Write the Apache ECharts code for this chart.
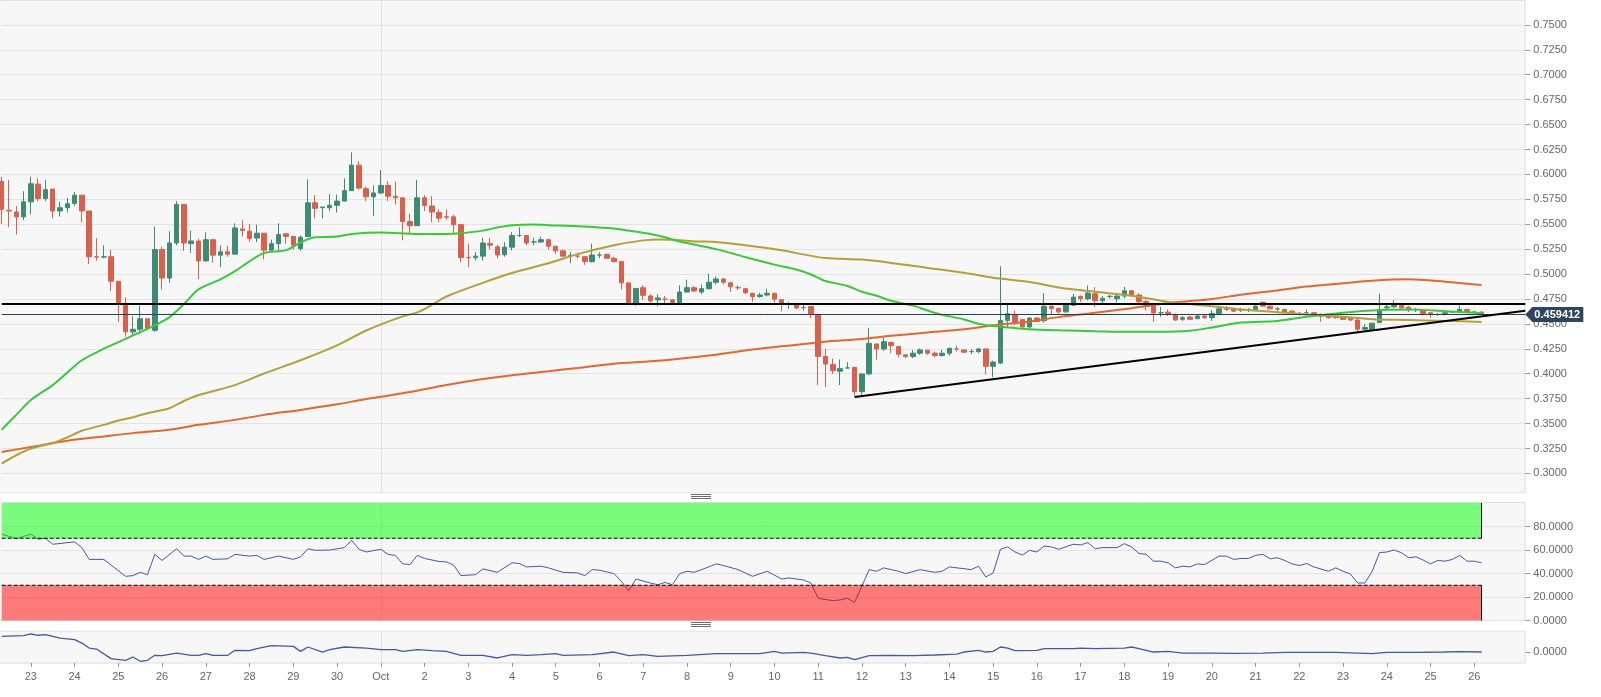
<!DOCTYPE html>
<html><head><meta charset="utf-8">
<script src="https://cdn.jsdelivr.net/npm/echarts@6/dist/echarts.min.js"></script>
<style>html,body{margin:0;padding:0;background:#fff;}#c{width:1601px;height:697px;}</style>
</head><body><div id="c"></div>
<script>
// ---- axis labels (one per day, 4h candles) ----
const dayLabels = ['23','24','25','26','27','28','29','30','Oct','2','3','4','5','6','7','8','9','10','11','12','13','14','15','16','17','18','19','20','21','22','23','24','25','26'];
const firstLabelIndex = 4;   // candle index of the first day start
const candlesPerDay = 6;
const totalSlots = 210;      // candle slots on the axis (incl. empty space at right)

// ---- candle data (4h) ----
const opens = [0.5929,0.5640,0.5623,0.5574,0.5725,0.5902,0.5758,0.5853,0.5633,0.5666,0.5709,0.5791,0.5633,0.5174,0.5170,0.5174,0.4928,0.4699,0.4420,0.4446,0.4551,0.4436,0.5246,0.4960,0.5312,0.5699,0.5305,0.5332,0.5132,0.5345,0.5190,0.5223,0.5200,0.5453,0.5430,0.5361,0.5410,0.5240,0.5305,0.5404,0.5377,0.5256,0.5377,0.5715,0.5666,0.5666,0.5690,0.5732,0.5837,0.6093,0.5857,0.5775,0.5814,0.5889,0.5780,0.5765,0.5528,0.5486,0.5765,0.5683,0.5617,0.5574,0.5574,0.5496,0.5167,0.5164,0.5180,0.5305,0.5273,0.5194,0.5270,0.5387,0.5387,0.5322,0.5322,0.5345,0.5279,0.5233,0.5187,0.5180,0.5174,0.5125,0.5191,0.5197,0.5158,0.5125,0.4912,0.4699,0.4863,0.4780,0.4741,0.4748,0.4741,0.4715,0.4820,0.4863,0.4820,0.4853,0.4918,0.4951,0.4912,0.4863,0.4853,0.4807,0.4774,0.4790,0.4807,0.4743,0.4700,0.4700,0.4664,0.4674,0.4591,0.4173,0.4091,0.4025,0.4058,0.4064,0.3820,0.3998,0.4298,0.4249,0.4315,0.4272,0.4189,0.4173,0.4206,0.4236,0.4206,0.4183,0.4206,0.4249,0.4239,0.4222,0.4222,0.4249,0.4074,0.4107,0.4535,0.4591,0.4545,0.4470,0.4558,0.4532,0.4677,0.4654,0.4621,0.4687,0.4776,0.4753,0.4802,0.4733,0.4776,0.4753,0.4779,0.4832,0.4789,0.4725,0.4690,0.4612,0.4618,0.4595,0.4546,0.4569,0.4553,0.4579,0.4562,0.4605,0.4645,0.4651,0.4638,0.4638,0.4645,0.4717,0.4678,0.4651,0.4645,0.4628,0.4605,0.4612,0.4612,0.4579,0.4579,0.4572,0.4572,0.4553,0.4539,0.4447,0.4441,0.4513,0.4661,0.4671,0.4684,0.4668,0.4645,0.4638,0.4612,0.4595,0.4595,0.4618,0.4618,0.4645,0.4618,0.4618];
const closes = [0.5650,0.5633,0.5574,0.5725,0.5906,0.5758,0.5847,0.5633,0.5666,0.5705,0.5791,0.5633,0.5174,0.5170,0.5174,0.4928,0.4699,0.4420,0.4446,0.4551,0.4453,0.5246,0.4960,0.5312,0.5699,0.5312,0.5332,0.5132,0.5345,0.5190,0.5223,0.5200,0.5463,0.5437,0.5355,0.5410,0.5240,0.5305,0.5397,0.5377,0.5289,0.5370,0.5715,0.5660,0.5673,0.5690,0.5732,0.5837,0.6093,0.5863,0.5775,0.5814,0.5889,0.5781,0.5765,0.5528,0.5486,0.5765,0.5689,0.5623,0.5561,0.5571,0.5496,0.5167,0.5164,0.5180,0.5312,0.5290,0.5191,0.5270,0.5387,0.5387,0.5312,0.5322,0.5345,0.5279,0.5233,0.5180,0.5187,0.5180,0.5125,0.5191,0.5191,0.5158,0.5125,0.4912,0.4699,0.4856,0.4787,0.4731,0.4760,0.4748,0.4715,0.4820,0.4863,0.4830,0.4853,0.4918,0.4951,0.4918,0.4872,0.4863,0.4813,0.4774,0.4790,0.4807,0.4748,0.4700,0.4700,0.4660,0.4664,0.4601,0.4173,0.4097,0.4031,0.4051,0.4058,0.3820,0.3998,0.4305,0.4249,0.4321,0.4282,0.4196,0.4173,0.4206,0.4239,0.4206,0.4183,0.4206,0.4255,0.4249,0.4216,0.4222,0.4249,0.4074,0.4117,0.4535,0.4601,0.4519,0.4470,0.4558,0.4525,0.4677,0.4654,0.4621,0.4687,0.4769,0.4753,0.4809,0.4733,0.4756,0.4776,0.4779,0.4832,0.4789,0.4723,0.4680,0.4610,0.4612,0.4595,0.4539,0.4562,0.4546,0.4579,0.4562,0.4605,0.4651,0.4645,0.4628,0.4638,0.4645,0.4678,0.4678,0.4651,0.4651,0.4618,0.4605,0.4605,0.4612,0.4585,0.4579,0.4562,0.4562,0.4546,0.4539,0.4447,0.4464,0.4507,0.4645,0.4671,0.4684,0.4661,0.4638,0.4645,0.4605,0.4595,0.4595,0.4612,0.4618,0.4645,0.4618,0.4618,0.4594];
const lows = [0.5502,0.5470,0.5397,0.5541,0.5600,0.5732,0.5732,0.5560,0.5577,0.5617,0.5683,0.5519,0.5102,0.5135,0.5160,0.4830,0.4518,0.4371,0.4387,0.4420,0.4436,0.4420,0.4846,0.4912,0.5289,0.5233,0.5214,0.4951,0.5125,0.5115,0.5069,0.5174,0.5200,0.5377,0.5322,0.5322,0.5148,0.5233,0.5233,0.5305,0.5246,0.5233,0.5377,0.5560,0.5560,0.5633,0.5617,0.5732,0.5837,0.5847,0.5732,0.5584,0.5804,0.5732,0.5699,0.5338,0.5410,0.5486,0.5633,0.5519,0.5519,0.5541,0.5404,0.5115,0.5069,0.5135,0.5135,0.5246,0.5158,0.5174,0.5237,0.5370,0.5290,0.5290,0.5312,0.5246,0.5200,0.5174,0.5109,0.5158,0.5092,0.5115,0.5158,0.5158,0.5115,0.4846,0.4699,0.4682,0.4740,0.4715,0.4676,0.4708,0.4699,0.4699,0.4813,0.4820,0.4797,0.4846,0.4896,0.4896,0.4820,0.4840,0.4797,0.4722,0.4764,0.4774,0.4715,0.4624,0.4650,0.4650,0.4634,0.4558,0.3886,0.3866,0.3998,0.3886,0.4051,0.3778,0.3787,0.3985,0.4140,0.4229,0.4206,0.4163,0.4157,0.4157,0.4189,0.4189,0.4166,0.4173,0.4183,0.4223,0.4206,0.4196,0.4206,0.3992,0.3965,0.4097,0.4469,0.4489,0.4463,0.4436,0.4519,0.4512,0.4591,0.4604,0.4611,0.4677,0.4720,0.4737,0.4667,0.4697,0.4753,0.4717,0.4756,0.4773,0.4707,0.4634,0.4520,0.4572,0.4579,0.4530,0.4530,0.4539,0.4546,0.4553,0.4530,0.4595,0.4628,0.4618,0.4618,0.4618,0.4638,0.4671,0.4645,0.4628,0.4612,0.4595,0.4585,0.4605,0.4579,0.4520,0.4553,0.4553,0.4539,0.4530,0.4408,0.4421,0.4431,0.4507,0.4651,0.4661,0.4651,0.4618,0.4618,0.4585,0.4562,0.4579,0.4585,0.4612,0.4612,0.4612,0.4612,0.4590];
const highs = [0.5978,0.5946,0.5683,0.5830,0.5978,0.5960,0.5945,0.5853,0.5725,0.5764,0.5824,0.5791,0.5633,0.5360,0.5289,0.5246,0.4928,0.4764,0.4577,0.4682,0.4551,0.5476,0.5273,0.5430,0.5732,0.5699,0.5437,0.5355,0.5420,0.5345,0.5289,0.5280,0.5509,0.5541,0.5502,0.5496,0.5410,0.5345,0.5509,0.5410,0.5387,0.5387,0.5950,0.5791,0.5673,0.5804,0.5797,0.5961,0.6221,0.6132,0.5879,0.5889,0.6043,0.5935,0.5929,0.5765,0.5607,0.5945,0.5791,0.5781,0.5650,0.5650,0.5594,0.5496,0.5305,0.5220,0.5364,0.5364,0.5290,0.5320,0.5420,0.5470,0.5387,0.5364,0.5377,0.5355,0.5279,0.5246,0.5220,0.5214,0.5180,0.5305,0.5220,0.5207,0.5174,0.5125,0.4912,0.4856,0.4886,0.4797,0.4797,0.4780,0.4748,0.4886,0.4944,0.4879,0.4896,0.5004,0.4977,0.4961,0.4918,0.4886,0.4863,0.4813,0.4813,0.4853,0.4813,0.4743,0.4723,0.4710,0.4690,0.4674,0.4591,0.4250,0.4153,0.4143,0.4117,0.4064,0.3998,0.4459,0.4305,0.4361,0.4321,0.4272,0.4196,0.4239,0.4255,0.4236,0.4222,0.4239,0.4262,0.4282,0.4239,0.4249,0.4255,0.4249,0.4130,0.5079,0.4701,0.4634,0.4551,0.4568,0.4568,0.4809,0.4687,0.4664,0.4703,0.4802,0.4786,0.4885,0.4868,0.4779,0.4789,0.4812,0.4871,0.4839,0.4806,0.4740,0.4690,0.4671,0.4645,0.4605,0.4579,0.4579,0.4595,0.4595,0.4638,0.4684,0.4678,0.4661,0.4661,0.4661,0.4711,0.4727,0.4684,0.4671,0.4651,0.4638,0.4618,0.4645,0.4618,0.4605,0.4585,0.4579,0.4579,0.4562,0.4546,0.4497,0.4513,0.4803,0.4694,0.4737,0.4684,0.4678,0.4661,0.4645,0.4618,0.4605,0.4618,0.4628,0.4684,0.4651,0.4628,0.4628];

// ---- moving averages [candle index, value] ----
const maFast = [[0,0.3438],[2,0.3587],[4,0.3736],[7,0.3886],[9,0.4012],[11,0.4135],[14,0.4251],[16,0.4317],[18,0.4384],[20,0.445],[23,0.4566],[25,0.4699],[27,0.4847],[30,0.4946],[32,0.5029],[34,0.5128],[36,0.5211],[39,0.524],[41,0.5317],[43,0.5369],[46,0.5376],[48,0.5402],[52,0.5416],[57,0.5402],[61,0.5402],[63,0.541],[66,0.5436],[68,0.5468],[70,0.5491],[73,0.5498],[75,0.5491],[79,0.5481],[84,0.5458],[86,0.5436],[89,0.5402],[91,0.5369],[93,0.5326],[98,0.525],[102,0.5171],[106,0.5095],[109,0.5046],[111,0.4996],[113,0.493],[116,0.4881],[118,0.4822],[120,0.4782],[122,0.4733],[125,0.4683],[127,0.4634],[129,0.4591],[132,0.4545],[134,0.4502],[136,0.4479],[139,0.4459],[141,0.4446],[145,0.4436],[150,0.4427],[155,0.442],[159,0.442],[163,0.4431],[166,0.4464],[170,0.4513],[175,0.453],[179,0.4572],[184,0.4612],[188,0.4635],[193,0.4645],[198,0.4628],[202,0.4612],[203,0.4605]];
const maMid = [[0,0.3099],[2,0.3182],[4,0.3248],[7,0.3305],[9,0.3361],[11,0.3428],[14,0.3487],[16,0.353],[18,0.3564],[20,0.3604],[23,0.3653],[25,0.3726],[27,0.3786],[32,0.3886],[36,0.4002],[41,0.4135],[46,0.4284],[50,0.4434],[55,0.4576],[57,0.4615],[59,0.469],[61,0.4775],[66,0.4912],[70,0.501],[75,0.5108],[79,0.52],[84,0.5289],[88,0.5338],[90,0.5348],[92,0.5345],[95,0.5328],[98,0.5322],[102,0.5289],[107,0.524],[109,0.521],[113,0.5161],[118,0.5145],[122,0.5112],[127,0.5062],[132,0.5013],[136,0.4963],[141,0.4921],[145,0.4865],[150,0.4822],[155,0.4782],[159,0.4733],[161,0.4711],[166,0.4678],[170,0.4645],[175,0.4618],[179,0.4595],[184,0.4572],[188,0.4546],[193,0.4539],[198,0.453],[203,0.452]];
const maSlow = [[0,0.3215],[4,0.3265],[9,0.3328],[14,0.3371],[18,0.3404],[23,0.3438],[27,0.3487],[32,0.3537],[36,0.3587],[41,0.3637],[46,0.3693],[50,0.3746],[55,0.3803],[61,0.3886],[66,0.3946],[70,0.3985],[75,0.4025],[79,0.4058],[84,0.4101],[89,0.4125],[93,0.4151],[98,0.4191],[102,0.4234],[107,0.4275],[113,0.4321],[118,0.4348],[122,0.438],[127,0.4413],[132,0.4446],[136,0.4486],[141,0.4525],[145,0.4568],[150,0.4611],[155,0.4657],[159,0.47],[161,0.4717],[166,0.475],[170,0.4793],[175,0.4836],[179,0.4875],[184,0.4908],[188,0.4934],[193,0.4947],[198,0.4924],[203,0.4891]];

// ---- levels ----
const resistance = 0.4705;
const lastPrice = 0.459412;
const trendLine = [[117, 0.3767], [209, 0.4633]];
const rsiUpper = 70, rsiLower = 30;

// ---- RSI [index, value] ----
const rsi = [[0,73.5],[2,69.7],[4,73.5],[5,69.2],[6,70],[7,64.9],[10,66.9],[11,62],[12,52],[14,52],[17,37.6],[18,38.2],[19,41],[20,39],[21,56.3],[22,51.1],[24,61.1],[25,54.8],[26,54.8],[27,52],[28,54.8],[29,52],[31,52.5],[32,56.3],[34,54.8],[35,55.4],[36,52],[38,54.8],[40,52],[41,54.2],[42,61.1],[43,59.7],[45,60],[47,62],[48,68.3],[49,60.6],[50,58.3],[52,60.6],[53,56.3],[54,55.4],[55,48.2],[56,47.6],[57,55.4],[58,52.8],[60,50.2],[61,49.9],[62,47.1],[63,38.2],[65,39],[66,43.9],[68,41],[70,49.1],[71,48.5],[72,45.6],[74,46.2],[75,44.8],[77,41],[79,40.5],[80,38.2],[81,43.3],[82,42.8],[84,39.9],[85,33.3],[86,25.3],[87,35.3],[89,31.9],[90,30.4],[91,32.4],[92,30.4],[93,39.9],[94,41.9],[95,41],[97,45.6],[98,48.2],[99,46.8],[101,43.3],[103,37.6],[105,41.9],[107,35.3],[108,36.2],[110,34.5],[111,31.9],[112,18.9],[114,16.9],[115,17.5],[116,18.9],[117,15.5],[119,43.3],[120,41.9],[121,44.8],[123,41.9],[124,39.9],[126,43.3],[128,41],[129,41.9],[130,45.6],[133,43.3],[134,46.2],[135,37],[136,40.5],[137,60.6],[138,62.6],[139,58.3],[140,55.7],[141,59.7],[142,58.3],[143,63.4],[144,62.6],[145,60.6],[147,64.9],[148,64.3],[149,66.3],[150,61.1],[151,62],[153,62],[154,65.4],[155,62.6],[156,57.1],[157,56.3],[158,50.5],[159,50.5],[160,49.1],[161,44.8],[162,46.2],[163,45.6],[164,48.2],[165,47.6],[167,54.8],[168,54.8],[169,52],[170,52.8],[171,52.8],[172,55.4],[173,56.3],[174,52.5],[175,53.4],[176,51.1],[177,48.2],[178,46.8],[179,48.5],[180,45.6],[182,41.9],[183,44.8],[184,41.9],[185,39.6],[186,31.9],[187,31.9],[188,41.9],[189,57.7],[190,58.3],[191,60],[192,57.7],[193,53.4],[194,54.2],[195,51.4],[196,48.2],[197,51.1],[198,50.5],[199,52],[200,55.4],[201,50.5],[202,50.5],[203,49.1]];

// ---- oscillator [index, value] ----
const osc = [[0,0.0150],[3,0.0157],[4,0.0172],[5,0.0160],[6,0.0166],[8,0.0134],[10,0.0119],[11,0.0087],[12,0.0040],[13,0.0031],[15,-0.0059],[17,-0.0075],[18,-0.0044],[19,-0.0084],[20,-0.0075],[21,-0.0028],[22,-0.0031],[24,-0.0007],[26,-0.0028],[27,-0.0028],[28,-0.0012],[29,-0.0028],[31,-0.0028],[32,0.0019],[34,0.0016],[35,0.0035],[37,0.0063],[40,0.0056],[41,0.0009],[42,0.0050],[44,0.0003],[45,0.0025],[47,0.0050],[50,0.0040],[52,0.0025],[54,0.0025],[55,0.0009],[57,0.0025],[59,0.0016],[61,0.0009],[63,-0.0028],[66,-0.0028],[68,-0.0053],[70,-0.0022],[72,-0.0028],[74,-0.0022],[76,-0.0012],[77,-0.0028],[81,-0.0022],[84,0.0003],[86,-0.0031],[88,-0.0022],[90,-0.0038],[94,-0.0028],[98,-0.0012],[104,-0.0012],[106,0.0009],[107,-0.0007],[110,0],[111,-0.0007],[113,-0.0031],[115,-0.0053],[116,-0.0047],[117,-0.0068],[119,-0.0031],[122,-0.0028],[125,-0.0031],[128,-0.0025],[131,-0.0016],[132,0.0003],[134,0.0019],[135,0.0003],[136,0.0009],[137,0.0050],[138,0.0040],[139,0.0016],[142,0.0019],[143,0.0035],[147,0.0035],[148,0.0040],[150,0.0035],[154,0.0040],[155,0.0050],[156,0.0035],[158,0.0003],[160,0.0009],[162,-0.0007],[166,-0.0007],[169,-0.0009],[173,-0.0007],[176,0],[180,0],[183,0],[186,-0.0007],[188,-0.0012],[190,0],[194,0],[198,0.0003],[200,0.0007],[203,0.0003]];

// ---------- build ----------
const categories = [];
const labelAt = {};
for (let i = 0; i < totalSlots; i++) categories.push('c' + i);
dayLabels.forEach((d, k) => { labelAt[firstLabelIndex + k * candlesPerDay] = d; });
const octIndex = firstLabelIndex + dayLabels.indexOf('Oct') * candlesPerDay;
const candles = opens.map((o, i) => [o, closes[i], lows[i], highs[i]]);
const lastIdx = opens.length - 1;

const FONT = 'Liberation Sans, Arial, sans-serif';
const UP = '#3d8b74', DOWN = '#d8604d';
const GRID_LEFT = 1.7, GRID_W = 1523.6;

function xAx(gi, showLabels) {
  return {
    gridIndex: gi, type: 'category', data: categories, boundaryGap: false,
    axisLine: { show: false, onZero: false },
    axisTick: { show: showLabels, interval: (i) => labelAt[i] !== undefined, length: 4, lineStyle: { color: '#9a9a9a' } },
    axisLabel: { show: showLabels, interval: (i) => labelAt[i] !== undefined, formatter: (v, i) => labelAt[i] || '', color: '#666', fontSize: 11, fontFamily: FONT, margin: 8 },
    splitLine: { show: true, interval: (i) => i === octIndex, lineStyle: { color: '#e2e2e2', width: 1 } }
  };
}
const yLabel = { color: '#666', fontSize: 11, fontFamily: FONT, margin: 8 };
const tickStyle = { show: true, length: 5, lineStyle: { color: '#9a9a9a' } };

const chart = echarts.init(document.getElementById('c'), null, { renderer: 'canvas' });
const hbar = (y) => ({ type: 'group', z: 101, children: [-2, 0, 2].map(d => ({ type: 'line', z: 101, shape: { x1: 691, y1: y + d + 0.5, x2: 711, y2: y + d + 0.5 }, style: { stroke: '#6e6e6e', lineWidth: 1 } })) });

chart.setOption({
  animation: false,
  backgroundColor: '#ffffff',
  textStyle: { fontFamily: FONT },
  graphic: [
    { type: 'rect', z: -10, shape: { x: -1, y: 0.5, width: 1526, height: 492.5 }, style: { fill: '#f7f7f7', stroke: '#d6dde4', lineWidth: 1 } },
    { type: 'rect', z: -10, shape: { x: -1, y: 502.5, width: 1526, height: 118 }, style: { fill: '#f7f7f7', stroke: '#d6dde4', lineWidth: 1 } },
    { type: 'rect', z: -10, shape: { x: -1, y: 631, width: 1526, height: 32 }, style: { fill: '#f7f7f7', stroke: '#d6dde4', lineWidth: 1 } },
    { type: 'rect', z: 100, shape: { x: 0, y: 493.6, width: 1531, height: 8.4 }, style: { fill: '#ffffff' } },
    { type: 'rect', z: 100, shape: { x: 0, y: 621.1, width: 1531, height: 9.4 }, style: { fill: '#ffffff' } },
    hbar(496), hbar(624)
  ],
  grid: [
    { left: GRID_LEFT, width: GRID_W, top: -6.2, height: 504.5 },
    { left: GRID_LEFT, width: GRID_W, top: 503, height: 117.5 },
    { left: GRID_LEFT, width: GRID_W, top: 631, height: 32 }
  ],
  xAxis: [xAx(0, false), xAx(1, false), xAx(2, true)],
  yAxis: [
    { gridIndex: 0, type: 'value', position: 'right', min: 0.275, max: 0.775, interval: 0.025,
      axisLine: { show: false }, axisTick: tickStyle,
      axisLabel: Object.assign({ formatter: v => v.toFixed(4), showMinLabel: false, showMaxLabel: false }, yLabel),
      splitLine: { lineStyle: { color: '#e3e3e3' } } },
    { gridIndex: 1, type: 'value', position: 'right', min: 0, max: 100, interval: 20,
      axisLine: { show: false }, axisTick: Object.assign({ customValues: [0, 20, 40, 60, 80] }, tickStyle),
      axisLabel: Object.assign({ formatter: v => v.toFixed(4), showMaxLabel: false }, yLabel),
      splitLine: { lineStyle: { color: '#e3e3e3' } } },
    { gridIndex: 2, type: 'value', position: 'right', min: -0.01, max: 0.02, interval: 0.01,
      axisLine: { show: false }, axisTick: Object.assign({ customValues: [0] }, tickStyle),
      axisLabel: Object.assign({ customValues: [0], formatter: v => Math.abs(v) < 1e-12 ? '0.0000' : '' }, yLabel),
      splitLine: { show: true, lineStyle: { color: ['rgba(0,0,0,0)', '#e3e3e3', 'rgba(0,0,0,0)', 'rgba(0,0,0,0)'] } } }
  ],
  series: [
    { type: 'candlestick', xAxisIndex: 0, yAxisIndex: 0, data: candles, barWidth: 5, clip: false, z: 2,
      itemStyle: { color: UP, color0: DOWN, borderColor: UP, borderColor0: DOWN, borderWidth: 1 },
      markLine: { silent: true, symbol: ['none', 'none'], label: { show: false }, animation: false,
        data: [
          { yAxis: resistance, lineStyle: { color: '#000', width: 2, type: 'solid' } },
          { yAxis: lastPrice, lineStyle: { color: '#2b3d55', width: 1, type: 'solid' } },
          [ { coord: trendLine[0], lineStyle: { color: '#000', width: 2, type: 'solid' } }, { coord: trendLine[1] } ]
        ] },
      markPoint: { silent: true, animation: false,
        data: [{ coord: [totalSlots - 1, lastPrice], symbol: 'path://M0,7.5L7,0L58,0L58,15L7,15Z', symbolSize: [58, 15], symbolOffset: [29, 0], symbolKeepAspect: false,
          itemStyle: { color: '#2e4560' },
          label: { show: true, position: 'inside', offset: [3, 0], formatter: lastPrice.toFixed(6), color: '#fff', fontWeight: 'bold', fontSize: 11, fontFamily: FONT } }] }
    },
    { type: 'line', xAxisIndex: 0, yAxisIndex: 0, data: maSlow, smooth: 0.3, symbol: 'none', z: 3, lineStyle: { color: '#e0692f', width: 2 } },
    { type: 'line', xAxisIndex: 0, yAxisIndex: 0, data: maMid, smooth: 0.3, symbol: 'none', z: 3, lineStyle: { color: '#b4a03a', width: 2 } },
    { type: 'line', xAxisIndex: 0, yAxisIndex: 0, data: maFast, smooth: 0.3, symbol: 'none', z: 3, lineStyle: { color: '#3cc83c', width: 2 } },
    // RSI
    { type: 'line', xAxisIndex: 1, yAxisIndex: 1, data: rsi, symbol: 'none', z: 2, lineStyle: { color: '#4656a8', width: 1 } },
    { type: 'line', xAxisIndex: 1, yAxisIndex: 1, stack: 'ob', data: [[0, rsiUpper], [lastIdx, rsiUpper]], symbol: 'none', z: 4, silent: true,
      lineStyle: { color: '#000', width: 1, type: [4, 2] } },
    { type: 'line', xAxisIndex: 1, yAxisIndex: 1, stack: 'ob', data: [[0, 100 - rsiUpper], [lastIdx, 100 - rsiUpper]], symbol: 'none', z: 3, silent: true,
      lineStyle: { width: 0 }, areaStyle: { color: 'rgba(0,255,0,0.5)', opacity: 1 } },
    { type: 'line', xAxisIndex: 1, yAxisIndex: 1, data: [[0, rsiLower], [lastIdx, rsiLower]], symbol: 'none', z: 3, silent: true,
      lineStyle: { color: '#000', width: 1, type: [4, 2] }, areaStyle: { color: 'rgba(255,0,0,0.5)', opacity: 1 },
      markLine: { silent: true, symbol: ['none', 'none'], label: { show: false }, lineStyle: { color: '#000', width: 1, type: 'solid' },
        data: [ [ { coord: [lastIdx, 0] }, { coord: [lastIdx, rsiLower] } ], [ { coord: [lastIdx, rsiUpper] }, { coord: [lastIdx, 100] } ] ] } },
    // oscillator
    { type: 'line', xAxisIndex: 2, yAxisIndex: 2, data: osc, symbol: 'none', z: 2, lineStyle: { color: '#4656a8', width: 1.3 } }
  ]
});
</script>
</body></html>
